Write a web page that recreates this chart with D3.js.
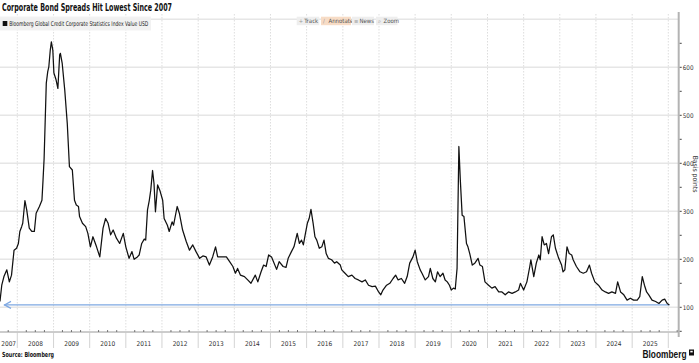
<!DOCTYPE html>
<html>
<head>
<meta charset="utf-8">
<script src="https://cdn.jsdelivr.net/npm/d3@7"></script>
<style>
  body { margin: 0; background: #fff; }
  text { font-family: "Liberation Sans Narrow", "DejaVu Sans Condensed", "Arial Narrow", sans-serif; }
</style>
</head>
<body>
<div id="chart"></div>
<script>
// decimal years
var dates = [
  2007.52, 2007.57, 2007.63, 2007.71, 2007.78, 2007.84, 2007.91, 2007.98,
  2008.03, 2008.07, 2008.12, 2008.15, 2008.21, 2008.26, 2008.33, 2008.40, 2008.47, 2008.52, 2008.61, 2008.68,
  2008.71, 2008.74, 2008.80, 2008.84, 2008.87, 2008.91, 2008.94, 2008.98,
  2009.01, 2009.07, 2009.12, 2009.17, 2009.19, 2009.24, 2009.31, 2009.38, 2009.44, 2009.52, 2009.58, 2009.63,
  2009.69, 2009.72, 2009.80, 2009.89, 2009.95,
  2010.02, 2010.09, 2010.19, 2010.28, 2010.37, 2010.44, 2010.51, 2010.58, 2010.65, 2010.74, 2010.83, 2010.93,
  2011.00, 2011.09, 2011.17, 2011.23, 2011.32, 2011.37, 2011.44, 2011.51, 2011.55, 2011.60, 2011.65, 2011.69,
  2011.74, 2011.78, 2011.82, 2011.88, 2011.94,
  2012.02, 2012.06, 2012.15, 2012.20, 2012.28, 2012.32, 2012.42, 2012.48, 2012.57, 2012.67, 2012.76, 2012.85, 2012.94,
  2013.04, 2013.13, 2013.22, 2013.31, 2013.40, 2013.48, 2013.54, 2013.67, 2013.78, 2013.87, 2013.96,
  2014.03, 2014.09, 2014.17, 2014.28, 2014.37, 2014.46, 2014.58, 2014.65, 2014.74, 2014.81, 2014.88, 2014.95,
  2015.03, 2015.17, 2015.24, 2015.35, 2015.43, 2015.49, 2015.58, 2015.65, 2015.74, 2015.80, 2015.86, 2015.91, 2015.96,
  2016.02, 2016.07, 2016.12, 2016.18, 2016.23, 2016.28, 2016.35, 2016.42, 2016.48, 2016.54, 2016.60, 2016.69,
  2016.77, 2016.83, 2016.93, 2016.97,
  2017.06, 2017.15, 2017.25, 2017.34, 2017.43, 2017.53, 2017.62, 2017.71, 2017.81, 2017.90, 2017.99,
  2018.05, 2018.11, 2018.21, 2018.30, 2018.39, 2018.46, 2018.53, 2018.62, 2018.71, 2018.78, 2018.85, 2018.94,
  2019.00, 2019.06, 2019.14, 2019.19, 2019.28, 2019.37, 2019.42, 2019.49, 2019.56, 2019.62, 2019.69, 2019.77,
  2019.83, 2019.89, 2019.95,
  2020.00, 2020.06, 2020.11, 2020.16, 2020.21, 2020.25, 2020.30, 2020.35, 2020.42, 2020.46, 2020.51, 2020.58,
  2020.65, 2020.74, 2020.79, 2020.86, 2020.93,
  2021.03, 2021.12, 2021.21, 2021.31, 2021.40, 2021.49, 2021.58, 2021.68, 2021.77, 2021.86, 2021.91,
  2022.00, 2022.09, 2022.17, 2022.20, 2022.28, 2022.35, 2022.42, 2022.46, 2022.51, 2022.57, 2022.63, 2022.69,
  2022.77, 2022.82, 2022.88, 2022.97,
  2023.05, 2023.09, 2023.14, 2023.20, 2023.26, 2023.33, 2023.37, 2023.46, 2023.56, 2023.65, 2023.74, 2023.82,
  2023.88, 2023.97,
  2024.07, 2024.17, 2024.26, 2024.35, 2024.44, 2024.54, 2024.60, 2024.68, 2024.77, 2024.86, 2024.95,
  2025.04, 2025.14, 2025.21, 2025.28, 2025.34, 2025.40, 2025.46, 2025.55, 2025.65, 2025.74, 2025.83, 2025.90,
  2025.97, 2026.03
];

// spread in basis points
var spreads = [
  112, 146, 164, 178, 153, 167, 219, 223,
  233, 258, 268, 275, 322, 303, 265, 258, 258, 296, 310, 323,
  365, 410, 567, 591, 601, 636, 653, 636,
  588, 574, 556, 626, 629, 608, 553, 483, 393, 386, 323, 313,
  310, 289, 275, 268, 254,
  226, 247, 226, 205, 265, 285, 275, 251, 261, 244, 233, 254,
  226, 202, 216, 200, 205, 209, 233, 242, 240, 303, 323, 344,
  385, 358, 299, 355, 344,
  323, 285, 271, 258, 278, 271, 310, 296, 261, 237, 219, 230, 216,
  202, 207, 205, 188, 205, 226, 205, 205, 205, 195, 185,
  171, 181, 167, 164, 157, 150, 167, 153, 174, 188, 185, 209,
  205, 179, 195, 185, 183, 202, 216, 226, 254, 233, 240, 230, 251,
  275, 285, 304, 275, 247, 240, 223, 226, 240, 212, 202, 199,
  192, 195, 188, 178,
  171, 164, 167, 160, 157, 153, 157, 146, 143, 144, 132,
  126, 136, 146, 150, 160, 167, 157, 160, 150, 164, 192, 205,
  219, 195, 178, 171, 157, 164, 181, 160, 153, 174, 164, 171,
  157, 153, 146,
  136, 140, 138, 181, 435, 365, 292, 289, 233, 226, 212, 188,
  192, 202, 188, 185, 153,
  146, 140, 143, 132, 132, 126, 132, 129, 132, 136, 150,
  136, 153, 185, 199, 164, 192, 209, 199, 247, 230, 233, 212,
  247, 251, 223, 202,
  188, 174, 178, 226, 212, 209, 199, 185, 174, 171, 174, 188,
  171, 153,
  146, 136, 132, 129, 132, 129, 153, 132, 126, 115, 119,
  115, 115, 122, 164, 146, 132, 126, 115, 112, 108, 115, 117,
  108, 105
];

var yLabels = [100, 200, 300, 400, 500, 600];
var yMinor = [50, 150, 250, 350, 450, 550, 650];
var yGrid = [100, 200, 300, 400, 500, 600, 700];
var years = d3.range(2007, 2027);
var lowLevel = 105;
var tools = ["Track", "Annotate", "News", "Zoom"];
var toolIcons = ["+", "\u2215", "\u2261", "\u2315"];

var width = 699, height = 363;
var plotLeft = 0, plotRight = 678.7, plotTop = 19.3, plotBottom = 332;

function toDate(t) {
  var y = Math.floor(t);
  var s = new Date(y, 0, 1), e = new Date(y + 1, 0, 1);
  return new Date(+s + (t - y) * (e - s));
}

var data = dates.map(function(d, i) { return { date: toDate(d), v: spreads[i] }; });

var xScale = d3.scaleTime()
  .domain([new Date(2008, 0, 1), new Date(2026, 0, 1)])
  .range([17.3, 668.3]);
var yScale = d3.scaleLinear().domain([100, 600]).range([307.3, 67.3]);

var svg = d3.select("#chart").append("svg")
  .attr("width", width).attr("height", height);

svg.append("defs").append("clipPath").attr("id", "plot")
  .append("rect")
  .attr("x", plotLeft).attr("y", 10)
  .attr("width", plotRight - plotLeft).attr("height", plotBottom - 10);

// horizontal gridlines
svg.append("g").selectAll("line").data(yGrid).enter().append("line")
  .attr("x1", plotLeft).attr("x2", plotRight)
  .attr("y1", function(d) { return yScale(d); })
  .attr("y2", function(d) { return yScale(d); })
  .attr("stroke", "#e6e6e6").attr("stroke-width", 1.4);

// vertical dotted year gridlines
var boundaries = years.map(function(y) { return new Date(y, 0, 1); })
  .filter(function(d) { return xScale(d) > plotLeft && xScale(d) < plotRight; });

svg.append("g").selectAll("line").data(boundaries).enter().append("line")
  .attr("x1", function(d) { return xScale(d); })
  .attr("x2", function(d) { return xScale(d); })
  .attr("y1", 14).attr("y2", plotBottom)
  .attr("stroke", "#d4d4d4").attr("stroke-width", 0.8)
  .attr("stroke-dasharray", "1.5,1.5");

// low-level reference line with arrow
var lowY = yScale(lowLevel);
var lastX = xScale(data[data.length - 1].date);
svg.append("line")
  .attr("x1", 4).attr("x2", lastX)
  .attr("y1", lowY).attr("y2", lowY)
  .attr("stroke", "#7ea8e2").attr("stroke-width", 1.2);
svg.append("path")
  .attr("d", "M" + 11 + "," + (lowY - 3.5) + "L" + 4.5 + "," + lowY + "L" + 11 + "," + (lowY + 3.5))
  .attr("fill", "none").attr("stroke", "#7ea8e2").attr("stroke-width", 1.2);

// series line
var line = d3.line()
  .x(function(d) { return xScale(d.date); })
  .y(function(d) { return yScale(d.v); });

svg.append("path").datum(data)
  .attr("clip-path", "url(#plot)")
  .attr("d", line)
  .attr("fill", "none")
  .attr("stroke", "#111")
  .attr("stroke-width", 1.25)
  .attr("stroke-linejoin", "round");

// x axis
var xg = svg.append("g");
xg.append("line")
  .attr("x1", plotLeft).attr("x2", plotRight)
  .attr("y1", plotBottom).attr("y2", plotBottom)
  .attr("stroke", "#9a9a9a").attr("stroke-width", 1);

var quarters = d3.timeMonth.every(3).range(new Date(2007, 9, 1), new Date(2026, 4, 1))
  .filter(function(d) { return d.getMonth() !== 0 && xScale(d) < plotRight; });
xg.selectAll(".q").data(quarters).enter().append("line")
  .attr("x1", function(d) { return xScale(d); })
  .attr("x2", function(d) { return xScale(d); })
  .attr("y1", plotBottom).attr("y2", plotBottom - 2)
  .attr("stroke", "#555").attr("stroke-width", 0.8);

xg.selectAll(".sep").data(boundaries).enter().append("line")
  .attr("x1", function(d) { return xScale(d); })
  .attr("x2", function(d) { return xScale(d); })
  .attr("y1", plotBottom).attr("y2", plotBottom + 16)
  .attr("stroke", "#c8c8c8").attr("stroke-width", 0.8);

var yearLabels = years.map(function(y) {
  var a = Math.max(plotLeft, xScale(new Date(y, 0, 1)));
  var b = Math.min(plotRight, xScale(new Date(y + 1, 0, 1)));
  return { y: y, x: (a + b) / 2, w: b - a };
}).filter(function(d) { return d.w > 15; });

xg.selectAll(".yl").data(yearLabels).enter().append("text")
  .attr("x", function(d) { return d.x; })
  .attr("y", 346)
  .attr("text-anchor", "middle")
  .attr("font-size", 6.5)
  .attr("fill", "#333")
  .text(function(d) { return d.y; });

// right axis
var yg = svg.append("g");
yg.append("line")
  .attr("x1", plotRight).attr("x2", plotRight)
  .attr("y1", 12).attr("y2", 337)
  .attr("stroke", "#b3b3b3").attr("stroke-width", 2);
yg.selectAll(".mt").data(yMinor.concat(yLabels)).enter().append("line")
  .attr("x1", plotRight + 1).attr("x2", plotRight + 3)
  .attr("y1", function(d) { return yScale(d); })
  .attr("y2", function(d) { return yScale(d); })
  .attr("stroke", "#444").attr("stroke-width", 1);
yg.selectAll(".lbl").data(yLabels).enter().append("text")
  .attr("x", plotRight + 4)
  .attr("y", function(d) { return yScale(d) + 2.2; })
  .attr("font-size", 6.3)
  .attr("fill", "#333")
  .text(function(d) { return d; });

svg.append("text")
  .attr("transform", "translate(692.6,174) rotate(90)")
  .attr("text-anchor", "middle")
  .attr("font-size", 6.8)
  .attr("fill", "#333")
  .text("Basis points");

// title
svg.append("text")
  .attr("x", 2).attr("y", 10.5)
  .attr("font-size", 10)
  .attr("font-weight", "bold")
  .attr("fill", "#111")
  .attr("textLength", 170).attr("lengthAdjust", "spacingAndGlyphs")
  .text("Corporate Bond Spreads Hit Lowest Since 2007");

// legend
svg.append("rect")
  .attr("x", 0).attr("y", 16.5).attr("width", 151).attr("height", 14)
  .attr("fill", "#f1f1f1").attr("opacity", 0.9);
svg.append("rect")
  .attr("x", 2.7).attr("y", 21).attr("width", 4.6).attr("height", 5)
  .attr("fill", "#111");
svg.append("text")
  .attr("x", 9.3).attr("y", 26)
  .attr("font-size", 6.5)
  .attr("fill", "#222")
  .attr("textLength", 139).attr("lengthAdjust", "spacingAndGlyphs")
  .text("Bloomberg Global Credit Corporate Statistics Index Value USD");

// toolbar
var toolX = [296.7, 321, 352, 376];
var toolW = [22.6, 30, 22, 21.5];
var tb = svg.append("g").selectAll("g").data(tools).enter().append("g")
  .attr("transform", function(d, i) { return "translate(" + toolX[i] + ",16.7)"; });
tb.append("rect")
  .attr("width", function(d, i) { return toolW[i]; })
  .attr("height", 8.5)
  .attr("fill", function(d) { return d === "Annotate" ? "#f7dcc6" : "#eeeeee"; });
tb.append("text")
  .attr("x", 2).attr("y", 6.3)
  .attr("font-size", 5.8)
  .attr("fill", "#999")
  .text(function(d, i) { return toolIcons[i]; });
tb.append("text")
  .attr("x", 7.5).attr("y", 6.3)
  .attr("font-size", 6)
  .attr("fill", "#555")
  .text(function(d) { return d; });

// footer
svg.append("text")
  .attr("x", 2).attr("y", 356.5)
  .attr("font-size", 7)
  .attr("font-weight", "bold")
  .attr("fill", "#111")
  .attr("textLength", 52).attr("lengthAdjust", "spacingAndGlyphs")
  .text("Source: Bloomberg");

svg.append("text")
  .attr("x", 642.5).attr("y", 357.5)
  .attr("font-size", 10)
  .attr("font-weight", "bold")
  .attr("fill", "#111")
  .style("font-family", "'Liberation Sans', Arial, sans-serif")
  .attr("textLength", 44).attr("lengthAdjust", "spacingAndGlyphs")
  .text("Bloomberg");
svg.append("rect")
  .attr("x", 689).attr("y", 349.5).attr("width", 5).attr("height", 6)
  .attr("fill", "#111");
svg.append("rect")
  .attr("x", 690.3).attr("y", 350.8).attr("width", 2.4).attr("height", 1.6)
  .attr("fill", "#fff");
</script>
</body>
</html>
